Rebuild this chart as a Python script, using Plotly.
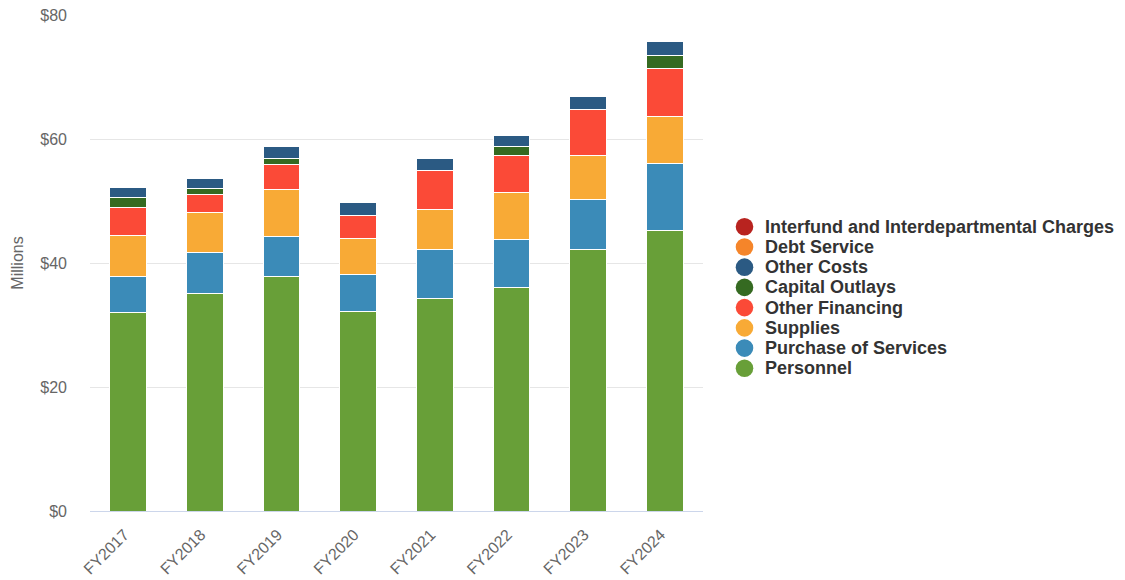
import plotly.graph_objects as go

years = ["FY2017", "FY2018", "FY2019", "FY2020", "FY2021", "FY2022", "FY2023", "FY2024"]

# Spending by category, in millions of dollars (stacked bottom to top)
personnel = [32.0, 35.1, 37.8, 32.1, 34.3, 36.0, 42.1, 45.3]
purchase_of_services = [5.8, 6.6, 6.4, 6.0, 7.8, 7.8, 8.1, 10.7]
supplies = [6.7, 6.5, 7.6, 5.8, 6.6, 7.5, 7.2, 7.7]
other_financing = [4.4, 2.9, 4.1, 3.8, 6.3, 6.1, 7.4, 7.7]
capital_outlays = [1.6, 0.9, 0.9, 0.0, 0.0, 1.4, 0.0, 2.1]
other_costs = [1.6, 1.7, 2.0, 2.1, 1.8, 1.8, 2.0, 2.2]
debt_service = [0, 0, 0, 0, 0, 0, 0, 0]
interfund_charges = [0, 0, 0, 0, 0, 0, 0, 0]

series = [
    ("Personnel", personnel, "#689f38"),
    ("Purchase of Services", purchase_of_services, "#3b8bb8"),
    ("Supplies", supplies, "#f8aa36"),
    ("Other Financing", other_financing, "#fb4a37"),
    ("Capital Outlays", capital_outlays, "#356a21"),
    ("Other Costs", other_costs, "#2b5a83"),
    ("Debt Service", debt_service, "#f5852a"),
    ("Interfund and Interdepartmental Charges", interfund_charges, "#b8231f"),
]

font_family = "Liberation Sans, Arial, Helvetica, sans-serif"

W, H = 1125, 580
ML, MR, MT, MB = 90, 422, 15, 69
plot_w, plot_h = W - ML - MR, H - MT - MB

fig = go.Figure()
for name, values, color in series:
    fig.add_trace(go.Bar(
        x=years, y=values, name=name, showlegend=False,
        marker=dict(color=color, line=dict(color="white", width=1)),
        width=0.48,
    ))

# Legend column: circle symbol plus bold label, top entry is the last series
legend_left_px = 744.5   # circle centre
legend_text_px = 763
legend_top_px = 226.7
legend_step_px = 20.23
shapes = []
annotations = []
for i, (name, values, color) in enumerate(reversed(series)):
    cy = legend_top_px + i * legend_step_px
    yp = (H - MB - cy) / plot_h
    xc = (legend_left_px - ML) / plot_w
    shapes.append(dict(
        type="circle", xref="paper", yref="paper",
        xsizemode="pixel", ysizemode="pixel", xanchor=xc, yanchor=yp,
        x0=-8.8, x1=8.8, y0=-8.8, y1=8.8,
        fillcolor=color, line=dict(width=0),
    ))
    annotations.append(dict(
        text=f"<b>{name}</b>", xref="paper", yref="paper",
        x=(legend_text_px - ML) / plot_w, y=yp, xanchor="left", yanchor="middle",
        showarrow=False, font=dict(family=font_family, size=18, color="#333333"),
    ))

fig.update_layout(
    barmode="stack",
    width=W, height=H,
    margin=dict(l=ML, r=MR, t=MT, b=MB),
    paper_bgcolor="white", plot_bgcolor="white",
    font=dict(family=font_family, color="#666666", size=16),
    showlegend=False,
    shapes=shapes,
    annotations=annotations,
    xaxis=dict(
        tickangle=-45, showgrid=False, showline=True, linecolor="#ccd6eb",
        linewidth=1, ticks="", tickfont=dict(size=16, color="#666666"),
        ticklabelstandoff=7, ticklabelshift=-4,
        range=[-0.5, 7.5], automargin=False,
    ),
    yaxis=dict(
        range=[0, 80], tickvals=[0, 20, 40, 60, 80],
        ticktext=["$0", "$20", "$40", "$60", "$80"],
        showgrid=True, gridcolor="#e6e6e6", gridwidth=1, zeroline=False,
        tickfont=dict(size=16, color="#666666"), ticklabelstandoff=22,
        automargin=False,
        title=dict(text="Millions", font=dict(size=16, color="#666666"), standoff=12),
    ),
)

fig.write_html("out.html")
